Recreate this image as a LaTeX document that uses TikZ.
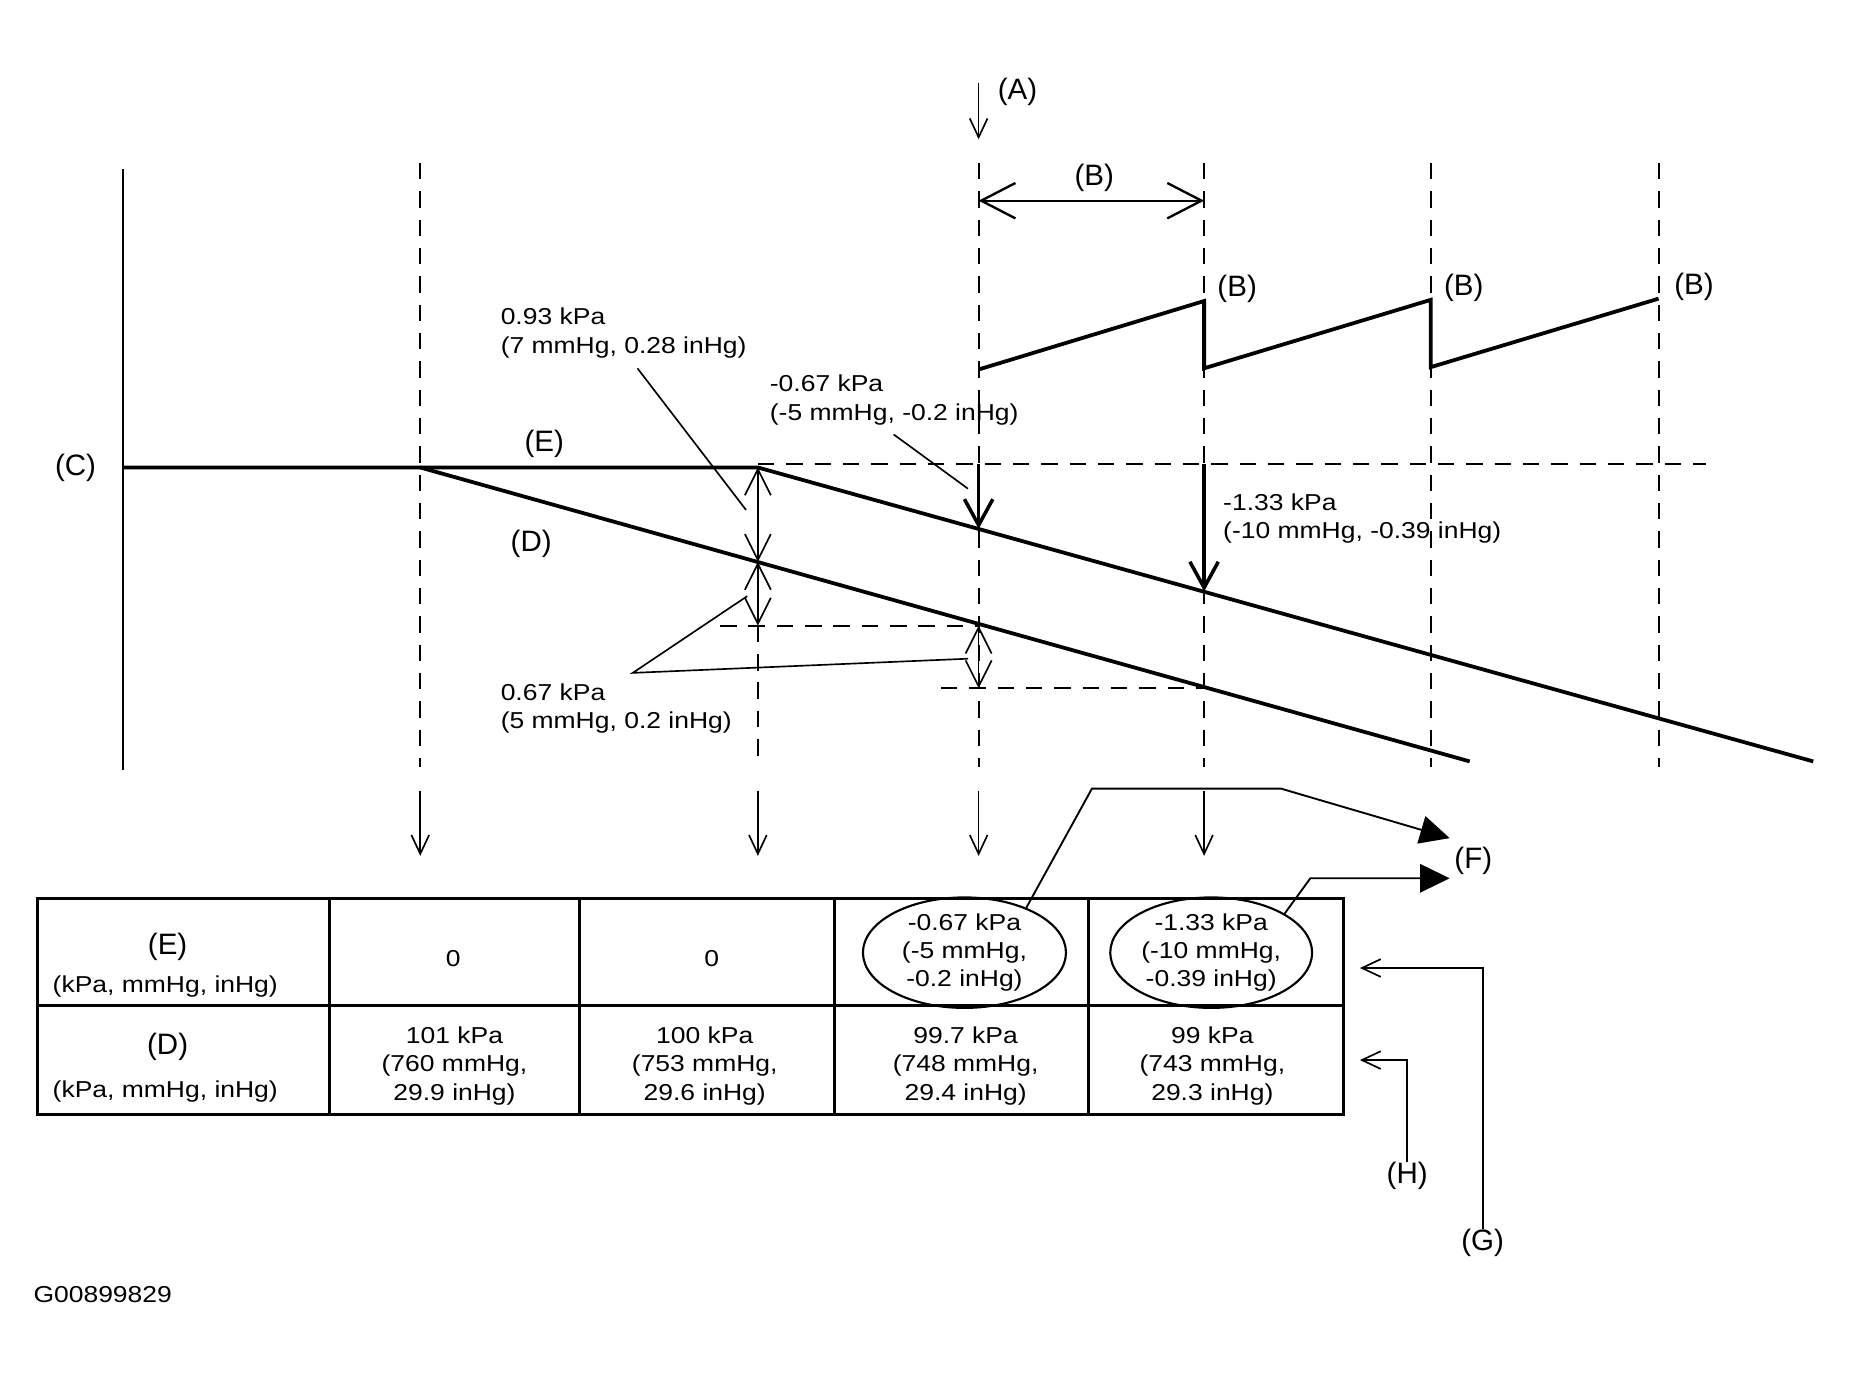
\documentclass[tikz,border=0pt]{standalone}
\usepackage{fontspec}
\setmainfont{Liberation Sans}
\newfontfamily\widefont{Liberation Sans}[FakeStretch=1.15]
\usetikzlibrary{arrows.meta, shapes.geometric}
\tikzset{tag/.style={font=\fontsize{25}{30}\selectfont, inner sep=0pt},
         txt/.style={font=\widefont\fontsize{19.5}{24}\selectfont, inner sep=0pt, align=left},
         cell/.style={font=\widefont\fontsize{19.5}{24}\selectfont, inner sep=0pt, align=center},
         curve/.style={line width=3.2pt},
         axis/.style={line width=1.8pt},
         guide/.style={line width=1.6pt, dash pattern=on 14pt off 10pt},
         leader/.style={line width=1.4pt},
         grid/.style={line width=2.2pt},
         drop/.style={line width=3pt, -{Straight Barb[length=22pt,width=24pt]}},
         span/.style={line width=1.4pt, {Straight Barb[length=22pt,width=22pt]}-{Straight Barb[length=22pt,width=22pt]}},
         period/.style={line width=2pt, {Straight Barb[length=29pt,width=30pt]}-{Straight Barb[length=29pt,width=30pt]}},
         tick/.style={line width=1.4pt, -{Straight Barb[length=16pt,width=15pt]}},
         pointer/.style={line width=1.6pt, -{Triangle[length=25pt,width=24pt]}}}

\begin{document}
\begin{tikzpicture}[x=1pt,y=-1pt]
    \useasboundingbox (0,0) rectangle (1568,1169);
    % guide lines
    \foreach \x in {356,829,1020,1212,1405}
        \draw[guide] (\x,138) -- (\x,650);
    \draw[guide] (642,530) -- (642,650);
    \draw[guide] (642,393) -- (1445,393);
    \draw[guide] (610,530) -- (829,530);
    \draw[guide] (797,583) -- (1020,583);
    \foreach \x in {356,642,829,1020}
        \draw[tick] (\x,670) -- (\x,725);
    % top
    \coordinate (a0) at (829,70);
    \coordinate (a1) at (829,118);
    \node[tag](A)at(862,78){(A)};
    \draw[tick] (a0) -- (a1);
    \coordinate (p0) at (829,170);
    \coordinate (p1) at (1020,170);
    \node[tag](Bp)at(927,151){(B)};
    \draw[period] (p0) -- (p1);
    \draw[curve] (829,313) -- (1020,255) -- (1020,312) -- (1212,254) -- (1212,311) -- (1405,253);
    \node[tag](B1)at(1048,245){(B)};
    \node[tag](B2)at(1240,244){(B)};
    \node[tag](B3)at(1435,243){(B)};
    % curves
    \coordinate (c0) at (104,396);
    \coordinate (knee) at (642,396);
    \coordinate (eend) at (1536,645);
    \coordinate (d0) at (356,396);
    \coordinate (dend) at (1245,645);
    \draw[axis] (104,143) -- (104,652);
    \node[tag](C)at(64,396){(C)};
    \draw[curve] (c0) -- (knee) -- (eend);
    \draw[curve] (d0) -- (dend);
    \node[tag](E)at(461,376){(E)};
    \node[tag](D)at(450,461){(D)};
    % differences
    \coordinate (ea) at (829,448);
    \coordinate (eb) at (1020,501);
    \coordinate (da) at (642,476);
    \coordinate (la) at (642,530);
    \coordinate (db) at (829,530);
    \coordinate (lb) at (829,583);
    \draw[drop] (829,393) -- (ea);
    \draw[drop] (1020,393) -- (eb);
    \draw[span] (knee) -- (da);
    \draw[span] (da) -- (la);
    \draw[span] (db) -- (lb);
    \node[txt, anchor=west](k093)at(424,282){0.93 kPa\\(7 mmHg, 0.28 inHg)};
    \node[txt, anchor=west](k067n)at(652,339){-0.67 kPa\\(-5 mmHg, -0.2 inHg)};
    \node[txt, anchor=west](k133n)at(1036,439){-1.33 kPa\\(-10 mmHg, -0.39 inHg)};
    \node[txt, anchor=west](k067)at(424,600){0.67 kPa\\(5 mmHg, 0.2 inHg)};
    \coordinate (q0) at (540,312);
    \coordinate (q1) at (632,432);
    \coordinate (r0) at (757,368);
    \coordinate (r1) at (820,414);
    \coordinate (s0) at (633,505);
    \coordinate (s1) at (536,570);
    \coordinate (s2) at (820,558);
    \draw[leader] (q0) -- (q1);
    \draw[leader] (r0) -- (r1);
    \draw[leader] (s0) -- (s1) -- (s2);
    % table
    \draw[grid] (32,761) rectangle (1138,944);
    \draw[grid] (32,852) -- (1138,852);
    \foreach \x in {279,491,707,922}
        \draw[grid] (\x,761) -- (\x,944);
    \node[tag](hE)at(142,802){(E)};
    \node[txt](uE)at(140,836){(kPa, mmHg, inHg)};
    \node[tag](hD)at(142,887){(D)};
    \node[txt](uD)at(140,925){(kPa, mmHg, inHg)};
    \node[cell](z1)at(384,812){0};
    \node[cell](z2)at(603,812){0};
    \node[cell, ellipse, draw, line width=1.8pt, minimum width=172pt, minimum height=90pt](e067)at(817,807){-0.67 kPa\\(-5 mmHg,\\-0.2 inHg)};
    \node[cell, ellipse, draw, line width=1.8pt, minimum width=171pt, minimum height=90pt](e133)at(1026,807){-1.33 kPa\\(-10 mmHg,\\-0.39 inHg)};
    \node[cell](v101)at(385,903){101 kPa\\(760 mmHg,\\29.9 inHg)};
    \node[cell](v100)at(597,903){100 kPa\\(753 mmHg,\\29.6 inHg)};
    \node[cell](v997)at(818,903){99.7 kPa\\(748 mmHg,\\29.4 inHg)};
    \node[cell](v99)at(1027,903){99 kPa\\(743 mmHg,\\29.3 inHg)};
    % callouts
    \coordinate (fa) at (925,668);
    \coordinate (fb) at (1085,668);
    \coordinate (ft1) at (1228,710);
    \coordinate (fc) at (1110,744);
    \coordinate (ft2) at (1228,744);
    \draw[pointer] (e067.36) -- (fa) -- (fb) -- (ft1);
    \draw[pointer] (e133.28) -- (fc) -- (ft2);
    \node[tag](F)at(1248,729){(F)};
    \coordinate (gt) at (1152,820);
    \coordinate (ht) at (1152,898);
    \node[tag](G)at(1256,1053){(G)};
    \node[tag](H)at(1192,996){(H)};
    \draw[tick] (G) |- (gt);
    \draw[tick] (H) |- (ht);
    \node[txt](code)at(87,1097){G00899829};
\end{tikzpicture}
\end{document}
